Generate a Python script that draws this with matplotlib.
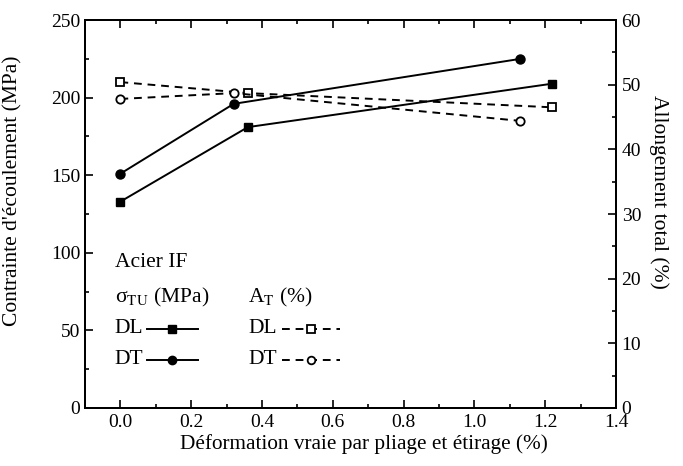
import matplotlib
matplotlib.use("Agg")
import matplotlib.pyplot as plt
from matplotlib.ticker import MultipleLocator

plt.rcParams['font.family'] = ['Liberation Serif', 'DejaVu Serif']
plt.rcParams['mathtext.fontset'] = 'stix'

# Déformation vraie (%)
x_dl = [0.0, 0.36, 1.22]
x_dt = [0.0, 0.32, 1.13]

# Contrainte d'écoulement sigma_TU (MPa)
sig_dl = [133, 181, 209]
sig_dt = [151, 196, 225]

# Allongement total A_T (%)
at_dl = [50.4, 48.7, 46.5]
at_dt = [47.8, 48.7, 44.4]

fig = plt.figure(figsize=(6.83, 4.66), dpi=100)
ax = fig.add_axes([0.1245, 0.1245, 0.7775, 0.8325])
ax2 = ax.twinx()

lw = 1.4
dash = (4, 3)
ax.plot(x_dl, sig_dl, '-', color='black', lw=lw, marker='s', ms=6)
ax.plot(x_dt, sig_dt, '-', color='black', lw=lw, marker='o', ms=6.5)
ax2.plot(x_dl, at_dl, '--', color='black', lw=lw, dashes=dash, marker='s', ms=5.5,
         mfc='white', mew=1.3)
ax2.plot(x_dt, at_dt, '--', color='black', lw=lw, dashes=dash, marker='o', ms=6,
         mfc='white', mew=1.3)

ax.set_xlim(-0.1, 1.4)
ax.set_ylim(0, 250)
ax2.set_ylim(0, 60)

ax.xaxis.set_major_locator(MultipleLocator(0.2))
ax.xaxis.set_minor_locator(MultipleLocator(0.1))
ax.yaxis.set_major_locator(MultipleLocator(50))
ax.yaxis.set_minor_locator(MultipleLocator(25))
ax2.yaxis.set_major_locator(MultipleLocator(10))
ax2.yaxis.set_minor_locator(MultipleLocator(5))

ax.tick_params(which='both', direction='in', top=True, right=False, labelsize=14, width=1.2)
ax.tick_params(which='major', length=6)
ax.tick_params(which='minor', length=3)
ax.tick_params(axis='x', pad=4)
ax2.tick_params(which='both', direction='in', labelsize=14, width=1.2, pad=4)
ax2.tick_params(which='major', length=6)
ax2.tick_params(which='minor', length=3)
ax.xaxis.set_major_formatter(plt.FuncFormatter(lambda v, p: f"{v:.1f}"))

for a in (ax, ax2):
    for s in a.spines.values():
        s.set_linewidth(1.4)

ax.set_xlabel("Déformation vraie par pliage et étirage (%)", fontsize=15.3)
ax.set_ylabel("Contrainte d'écoulement (MPa)", fontsize=15.5)
ax2.set_ylabel("Allongement total (%)", fontsize=15.5, rotation=270, va='center')
ax.xaxis.set_label_coords(0.526, -0.068)
ax.yaxis.set_label_coords(-0.118, 0.56)
ax2.yaxis.set_label_coords(1.08, 0.557)

# légende dessinée à la main
tr = ax.transAxes
fs = 15.5
ax.text(0.056, 0.374, "Acier IF", transform=tr, fontsize=fs, va='center')
ax.text(0.056, 0.286, r"σ$_{\mathrm{TU}}$ (MPa)", transform=tr, fontsize=fs, va='center')
ax.text(0.307, 0.286, r"A$_{\mathrm{T}}$ (%)", transform=tr, fontsize=fs, va='center')
rows = [("DL", 's', 0.204), ("DT", 'o', 0.124)]
for lab, mk, yy in rows:
    ax.text(0.056, yy, lab, transform=tr, fontsize=fs, va='center')
    ax.text(0.307, yy, lab, transform=tr, fontsize=fs, va='center')
    ax.plot([0.117, 0.213], [yy, yy], '-', color='black', lw=lw, transform=tr, clip_on=False)
    ax.plot([0.164], [yy], marker=mk, color='black', ms=6, transform=tr, clip_on=False)
    ax.plot([0.371, 0.480], [yy, yy], '--', color='black', lw=lw, dashes=dash,
            transform=tr, clip_on=False)
    ax.plot([0.426], [yy], marker=mk, color='black', ms=5.5, mfc='white', mew=1.3,
            transform=tr, clip_on=False)

fig.savefig("out.png", dpi=100)
